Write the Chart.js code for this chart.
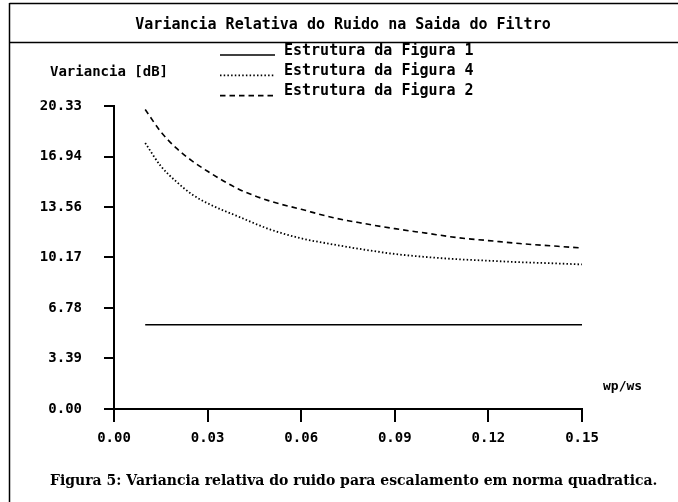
<!DOCTYPE html>
<html>
<head>
<meta charset="utf-8">
<script src="https://cdn.jsdelivr.net/npm/chart.js@4.4.1/dist/chart.umd.min.js"></script>
<style>
  html, body { margin: 0; padding: 0; background: #fff; }
</style>
</head>
<body>
<canvas id="grafico" width="678" height="502"></canvas>
<script>
// dados
var xValues    = [0.01, 0.015, 0.02, 0.025, 0.03, 0.04, 0.05, 0.06, 0.07, 0.08, 0.09, 0.10, 0.11, 0.12, 0.13, 0.14, 0.15];
var fig1Values = [5.65, 5.65, 5.65, 5.65, 5.65, 5.65, 5.65, 5.65, 5.65, 5.65, 5.65, 5.65, 5.65, 5.65, 5.65, 5.65, 5.65];
var fig4Values = [17.85, 16.3, 15.25, 14.4, 13.8, 12.9, 12.05, 11.45, 11.05, 10.7, 10.4, 10.2, 10.05, 9.95, 9.85, 9.78, 9.7];
var fig2Values = [20.1, 18.6, 17.5, 16.65, 15.95, 14.75, 13.95, 13.4, 12.85, 12.45, 12.1, 11.8, 11.5, 11.3, 11.1, 10.95, 10.8];
var xTickValues = [0, 0.03, 0.06, 0.09, 0.12, 0.15];
var yTickValues = [0, 3.39, 6.78, 10.17, 13.56, 16.94, 20.33];
var seriesLabels = ['Estrutura da Figura 1', 'Estrutura da Figura 4', 'Estrutura da Figura 2'];

var MONO = '"DejaVu Sans Mono", monospace';

function pontos(ys) {
  return xValues.map(function (x, i) { return { x: x, y: ys[i] }; });
}

// moldura, titulo, legenda e legenda da figura
var moldura = {
  id: 'moldura',
  beforeDraw: function (chart) {
    var ctx = chart.ctx;
    ctx.save();
    ctx.fillStyle = '#fff';
    ctx.fillRect(0, 0, chart.width, chart.height);
    ctx.strokeStyle = '#000';
    ctx.lineWidth = 1.5;
    ctx.beginPath();
    ctx.moveTo(9.5, 3); ctx.lineTo(9.5, chart.height);
    ctx.moveTo(9.5, 3.5); ctx.lineTo(chart.width, 3.5);
    ctx.moveTo(9.5, 42.5); ctx.lineTo(chart.width, 42.5);
    ctx.stroke();
    ctx.restore();
  },
  afterDraw: function (chart) {
    var ctx = chart.ctx;
    ctx.save();
    ctx.fillStyle = '#000';
    ctx.textBaseline = 'middle';

    ctx.font = 'bold 15px ' + MONO;
    ctx.textAlign = 'center';
    ctx.fillText('Variancia Relativa do Ruido na Saida do Filtro', 343, 25);

    // legenda
    ctx.textAlign = 'left';
    chart.data.datasets.forEach(function (ds, i) {
      var yt = 51 + i * 20.3;
      ctx.strokeStyle = '#000';
      ctx.lineWidth = ds.borderWidth;
      ctx.setLineDash(ds.borderDash || []);
      ctx.beginPath();
      ctx.moveTo(220, yt + 4);
      ctx.lineTo(275, yt + 4);
      ctx.stroke();
      ctx.setLineDash([]);
      ctx.font = 'bold 15px ' + MONO;
      ctx.fillText(ds.label, 284, yt);
    });

    ctx.font = 'bold 14px ' + MONO;
    ctx.fillText('Variancia [dB]', 50, 72);
    ctx.font = 'bold 13px ' + MONO;
    ctx.fillText('wp/ws', 603, 387);

    ctx.font = 'bold 14px "DejaVu Serif", serif';
    ctx.fillText('Figura 5: Variancia relativa do ruido para escalamento em norma quadratica.', 50, 481);
    ctx.restore();
  }
};

var ctx = document.getElementById('grafico').getContext('2d');
var grafico = new Chart(ctx, {
  type: 'line',
  data: {
    datasets: [{
      label: seriesLabels[0],
      data: pontos(fig1Values),
      borderColor: '#000',
      borderWidth: 1.5,
      borderDash: []
    }, {
      label: seriesLabels[1],
      data: pontos(fig4Values),
      borderColor: '#000',
      borderWidth: 1.8,
      borderDash: [1.5, 2.2]
    }, {
      label: seriesLabels[2],
      data: pontos(fig2Values),
      borderColor: '#000',
      borderWidth: 1.6,
      borderDash: [5.5, 4]
    }]
  },
  options: {
    responsive: false,
    animation: false,
    devicePixelRatio: 1,
    layout: { padding: { top: 106, right: 96, left: 0, bottom: 0 } },
    elements: {
      point: { radius: 0 },
      line: { cubicInterpolationMode: 'monotone', fill: false }
    },
    scales: {
      x: {
        type: 'linear',
        min: 0,
        max: 0.15,
        afterBuildTicks: function (s) { s.ticks = xTickValues.map(function (v) { return { value: v }; }); },
        afterFit: function (s) { s.height = 93; },
        ticks: {
          autoSkip: false,
          maxRotation: 0,
          padding: 8,
          color: '#000',
          font: { family: MONO, size: 14, weight: 'bold' },
          callback: function (v) { return v.toFixed(2); }
        },
        grid: { drawOnChartArea: false, drawTicks: true, tickLength: 13, color: '#000', lineWidth: 2 },
        border: { display: true, color: '#000', width: 2 }
      },
      y: {
        min: 0,
        max: 20.33,
        afterBuildTicks: function (s) { s.ticks = yTickValues.map(function (v) { return { value: v }; }); },
        afterFit: function (s) { s.width = 114; },
        ticks: {
          autoSkip: false,
          padding: 22,
          color: '#000',
          font: { family: MONO, size: 14, weight: 'bold' },
          callback: function (v) { return v.toFixed(2); }
        },
        grid: { drawOnChartArea: false, drawTicks: true, tickLength: 10, color: '#000', lineWidth: 2 },
        border: { display: true, color: '#000', width: 2 }
      }
    },
    plugins: {
      legend: { display: false },
      title: { display: false },
      tooltip: { enabled: false }
    }
  },
  plugins: [moldura]
});
</script>
</body>
</html>
